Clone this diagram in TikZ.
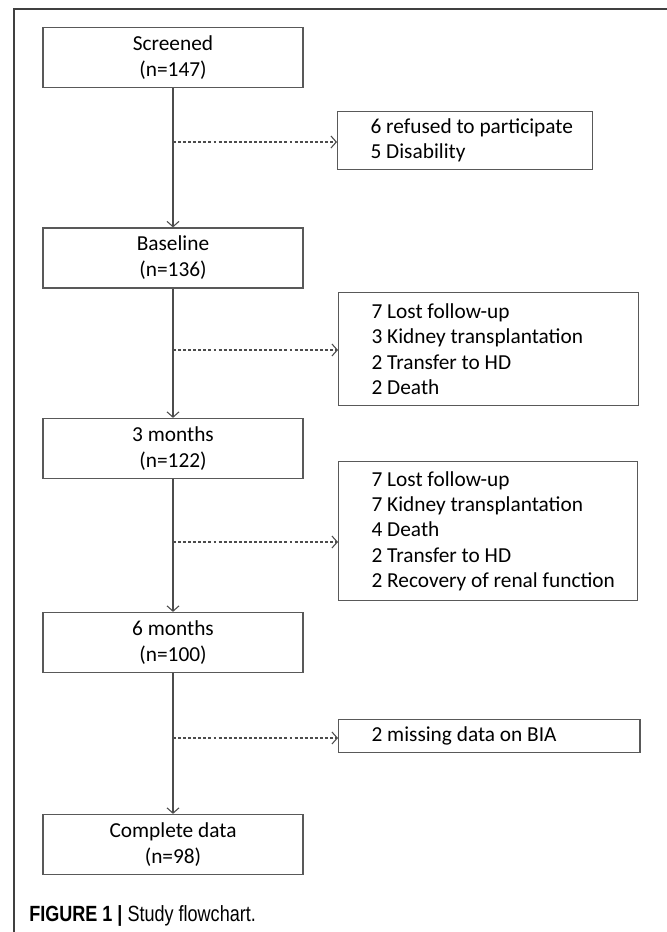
\documentclass[tikz,border=0pt]{standalone}
\usepackage{fontspec}
\setmainfont{Carlito}
\newfontfamily\capsans[FakeStretch=0.82]{Liberation Sans}
\usetikzlibrary{arrows.meta}

\begin{document}
\begin{tikzpicture}[x=0.75pt,y=-0.75pt,
   stagebox/.style={draw=black!65,line width=0.9pt,minimum width=195pt,minimum height=45pt,
      inner sep=0pt,align=center,font=\fontsize{16}{19.5}\selectfont},
   lossbox/.style={draw=black!65,line width=0.9pt,anchor=north west,inner sep=0pt},
   losstext/.style={anchor=west,inner sep=0pt,align=left,font=\fontsize{16}{19}\selectfont},
   flow/.style={black!70,line width=0.8pt,-{Straight Barb[length=4pt,width=9pt]}},
   drop/.style={flow,dash pattern=on 2.2pt off 1.6pt}]
   \useasboundingbox (0,0) rectangle (667,932);
   \draw [black!75,line width=0.8pt] (667,9) -- (14,9) -- (14,932);
   \node [stagebox] (scr) at (173,57.5) {Screened\\(n=147)};
   \node [stagebox] (base) at (173,258) {Baseline\\(n=136)};
   \node [stagebox] (m3) at (173,448.5) {3 months\\(n=122)};
   \node [stagebox] (m6) at (173,642.5) {6 months\\(n=100)};
   \node [stagebox] (done) at (173,844.5) {Complete data\\(n=98)};
   \node [lossbox,minimum width=191pt,minimum height=43.5pt] (ex1) at (337,111) {};
   \node [lossbox,minimum width=225pt,minimum height=84.75pt] (ex2) at (338,292) {};
   \node [lossbox,minimum width=224pt,minimum height=104.25pt] (ex3) at (338,461) {};
   \node [lossbox,minimum width=226pt,minimum height=24.75pt] (ex4) at (338,719) {};
   \node [losstext] (t1) at ([xshift=25pt]ex1.west) {6 refused to participate\\5 Disability};
   \node [losstext] (t2) at ([xshift=25pt]ex2.west)
      {7 Lost follow-up\\3 Kidney transplantation\\2 Transfer to HD\\2 Death};
   \node [losstext] (t3) at ([xshift=25pt]ex3.west)
      {7 Lost follow-up\\7 Kidney transplantation\\4 Death\\2 Transfer to HD\\2 Recovery of renal function};
   \node [losstext] (t4) at ([xshift=25pt]ex4.west) {2 missing data on BIA};
   \draw [flow] (scr) -- (base);
   \draw [flow] (base) -- (m3);
   \draw [flow] (m3) -- (m6);
   \draw [flow] (m6) -- (done);
   \coordinate (s1) at (scr.south |- 0,142);
   \coordinate (s2) at (scr.south |- 0,350);
   \coordinate (s3) at (scr.south |- 0,542);
   \coordinate (s4) at (scr.south |- 0,738);
   \draw [drop] (s1) -- (s1 -| ex1.west);
   \draw [drop] (s2) -- (s2 -| ex2.west);
   \draw [drop] (s3) -- (s3 -| ex3.west);
   \draw [drop] (s4) -- (s4 -| ex4.west);
   \node [anchor=base west,inner sep=0pt,font=\capsans\fontsize{16.5}{18}\selectfont] (cap) at (29,921)
      {\textbf{FIGURE 1 |} Study flowchart.};
\end{tikzpicture}
\end{document}
